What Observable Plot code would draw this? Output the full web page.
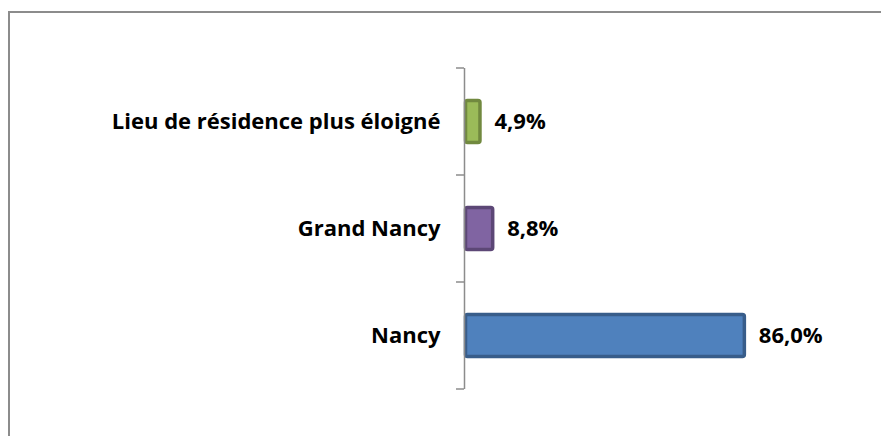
<!DOCTYPE html>
<html>
<head>
<meta charset="utf-8">
<script src="https://cdn.jsdelivr.net/npm/d3@7"></script>
<script src="https://cdn.jsdelivr.net/npm/@observablehq/plot@0.6"></script>
<style>
  html, body { margin: 0; padding: 0; background: #fff; }
  #wrap { position: relative; width: 881px; height: 436px; overflow: hidden; }
  #frame { position: absolute; left: 8px; top: 11px; width: 900px; height: 460px;
           border-left: 2px solid #8c8c8c; border-top: 2px solid #8c8c8c; box-sizing: border-box; }
  #chart { position: absolute; left: 0; top: 0; }
</style>
</head>
<body>
<div id="wrap"><div id="frame"></div><div id="chart"></div></div>
<script>
const categories = ["Lieu de résidence plus éloigné", "Grand Nancy", "Nancy"];
const values = [4.9, 8.8, 86.0];
const fills = ["#9BBB59", "#8064A2", "#4F81BD"];
const strokes = ["#71893F", "#5C4776", "#385D8A"];

const data = categories.map((c, i) => ({category: c, value: values[i], fill: fills[i], stroke: strokes[i]}));
const fmt = v => v.toFixed(1).replace(".", ",") + "%";

const W = 881, H = 436;
const font = "'Open Sans', sans-serif";

const chart = Plot.plot({
  width: W,
  height: H,
  marginLeft: 464,
  marginRight: 91,
  marginTop: 68,
  marginBottom: 47,
  style: {fontFamily: font, background: "transparent"},
  x: {domain: [0, 100], axis: null},
  y: {domain: categories, paddingInner: 0.58, paddingOuter: 0.29, label: null},
  marks: [
    Plot.barX(data, {x: "value", y: "category", fill: "fill", stroke: "stroke", strokeWidth: 3.5, rx: 2, insetTop: 1.5, insetBottom: 1.5, insetLeft: 1.5}),
    Plot.ruleX([0], {stroke: "#8c8c8c", strokeWidth: 1.5}),
    Plot.text(data, {x: "value", y: "category", text: d => fmt(d.value), textAnchor: "start", dx: 14, fontSize: 22, fontWeight: "bold", fill: "#000"}),
    Plot.axisY({tickSize: 0, tickPadding: 24, fontSize: 22, fontWeight: "bold", fill: "#000"})
  ]
});

// band-boundary tick marks on the category axis, from Plot's own y scale
const y = chart.scale("y");
const step = (y.range[1] - y.range[0]) / categories.length;
const bounds = d3.range(categories.length + 1).map(i => y.range[0] + i * step);
d3.select(chart).append("g")
  .selectAll("line").data(bounds).join("line")
  .attr("x1", 456).attr("x2", 464)
  .attr("y1", d => d).attr("y2", d => d)
  .attr("stroke", "#8c8c8c").attr("stroke-width", 1.5);

document.getElementById("chart").append(chart);
</script>
</body>
</html>
